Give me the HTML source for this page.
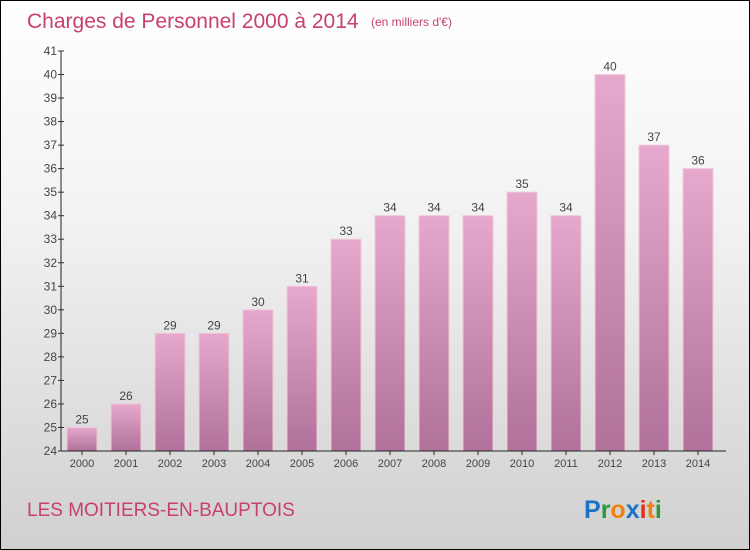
<!DOCTYPE html>
<html><head><meta charset="utf-8"><style>
body{margin:0}
#c{width:748px;height:548px;border:1px solid #000;background:linear-gradient(#ffffff,#f2f2f2 40%,#d0d0d0);position:relative;font-family:"Liberation Sans",sans-serif;overflow:hidden}
</style></head><body>
<div id="c">
<svg id="s" width="748" height="548" xmlns="http://www.w3.org/2000/svg">
<defs><linearGradient id="g" x1="0" y1="0" x2="0" y2="1"><stop offset="0" stop-color="#e6a8cc"/><stop offset="1" stop-color="#b0719a"/></linearGradient></defs>
<text x="26" y="27" font-size="21" fill="#c8406e">Charges de Personnel 2000 à 2014</text>
<text x="370" y="25" font-size="12" fill="#c8406e">(en milliers d'€)</text>
<text x="26" y="515" font-size="19" fill="#c8406e">LES MOITIERS-EN-BAUPTOIS</text>
<text x="583" y="517" font-size="25" font-weight="bold"><tspan fill="#1a73c8">P</tspan><tspan fill="#2a9a3a">r</tspan><tspan fill="#f08010">o</tspan><tspan fill="#1a73c8">x</tspan><tspan fill="#e03020">i</tspan><tspan fill="#f08010">t</tspan><tspan fill="#2a9a3a">i</tspan></text>
<g id="plot"></g>
</svg>
</div>
<script>
const categories=["2000","2001","2002","2003","2004","2005","2006","2007","2008","2009","2010","2011","2012","2013","2014"];
const values=[25,26,29,29,30,31,33,34,34,34,35,34,40,37,36];
const yTicks=[24,25,26,27,28,29,30,31,32,33,34,35,36,37,38,39,40,41];
const yMin=24,yMax=41,plotTop=50,plotBot=450,x0=60;
function yS(v){return plotBot-(v-yMin)/(yMax-yMin)*(plotBot-plotTop);}
function xc(i){return 81+i*44;}
const ns="http://www.w3.org/2000/svg",p=document.getElementById('plot');
function mk(t,a,txt){const e=document.createElementNS(ns,t);for(const k in a)e.setAttribute(k,a[k]);if(txt!==undefined)e.textContent=txt;p.appendChild(e);return e;}
values.forEach((v,i)=>{
 const r=mk('rect',{x:xc(i)-15,y:yS(v),width:30,height:plotBot-yS(v),fill:'url(#g)',stroke:'#f0c8dc','stroke-width':1});
 
 
 const t=mk('text',{x:xc(i),y:yS(v)-4,'text-anchor':'middle','font-size':12,fill:'#444'},v);
 
 
 const c=mk('text',{x:xc(i),y:plotBot+16,'text-anchor':'middle','font-size':11,fill:'#444'},categories[i]);
 
 
 mk('line',{x1:xc(i),x2:xc(i),y1:plotBot,y2:plotBot+4,stroke:'#333'});
});
yTicks.forEach(v=>{
 mk('line',{x1:x0-3,x2:x0+3,y1:yS(v),y2:yS(v),stroke:'#333'});
 const t=mk('text',{x:x0-4,y:yS(v)+4,'text-anchor':'end','font-size':12,fill:'#444'},v);
 
 
});
const ya=mk('line',{x1:x0,x2:x0,y1:plotTop,y2:plotBot,stroke:'#222'});


const xa=mk('line',{x1:x0,x2:725,y1:plotBot,y2:plotBot,stroke:'#222'});


</script>
</body></html>
